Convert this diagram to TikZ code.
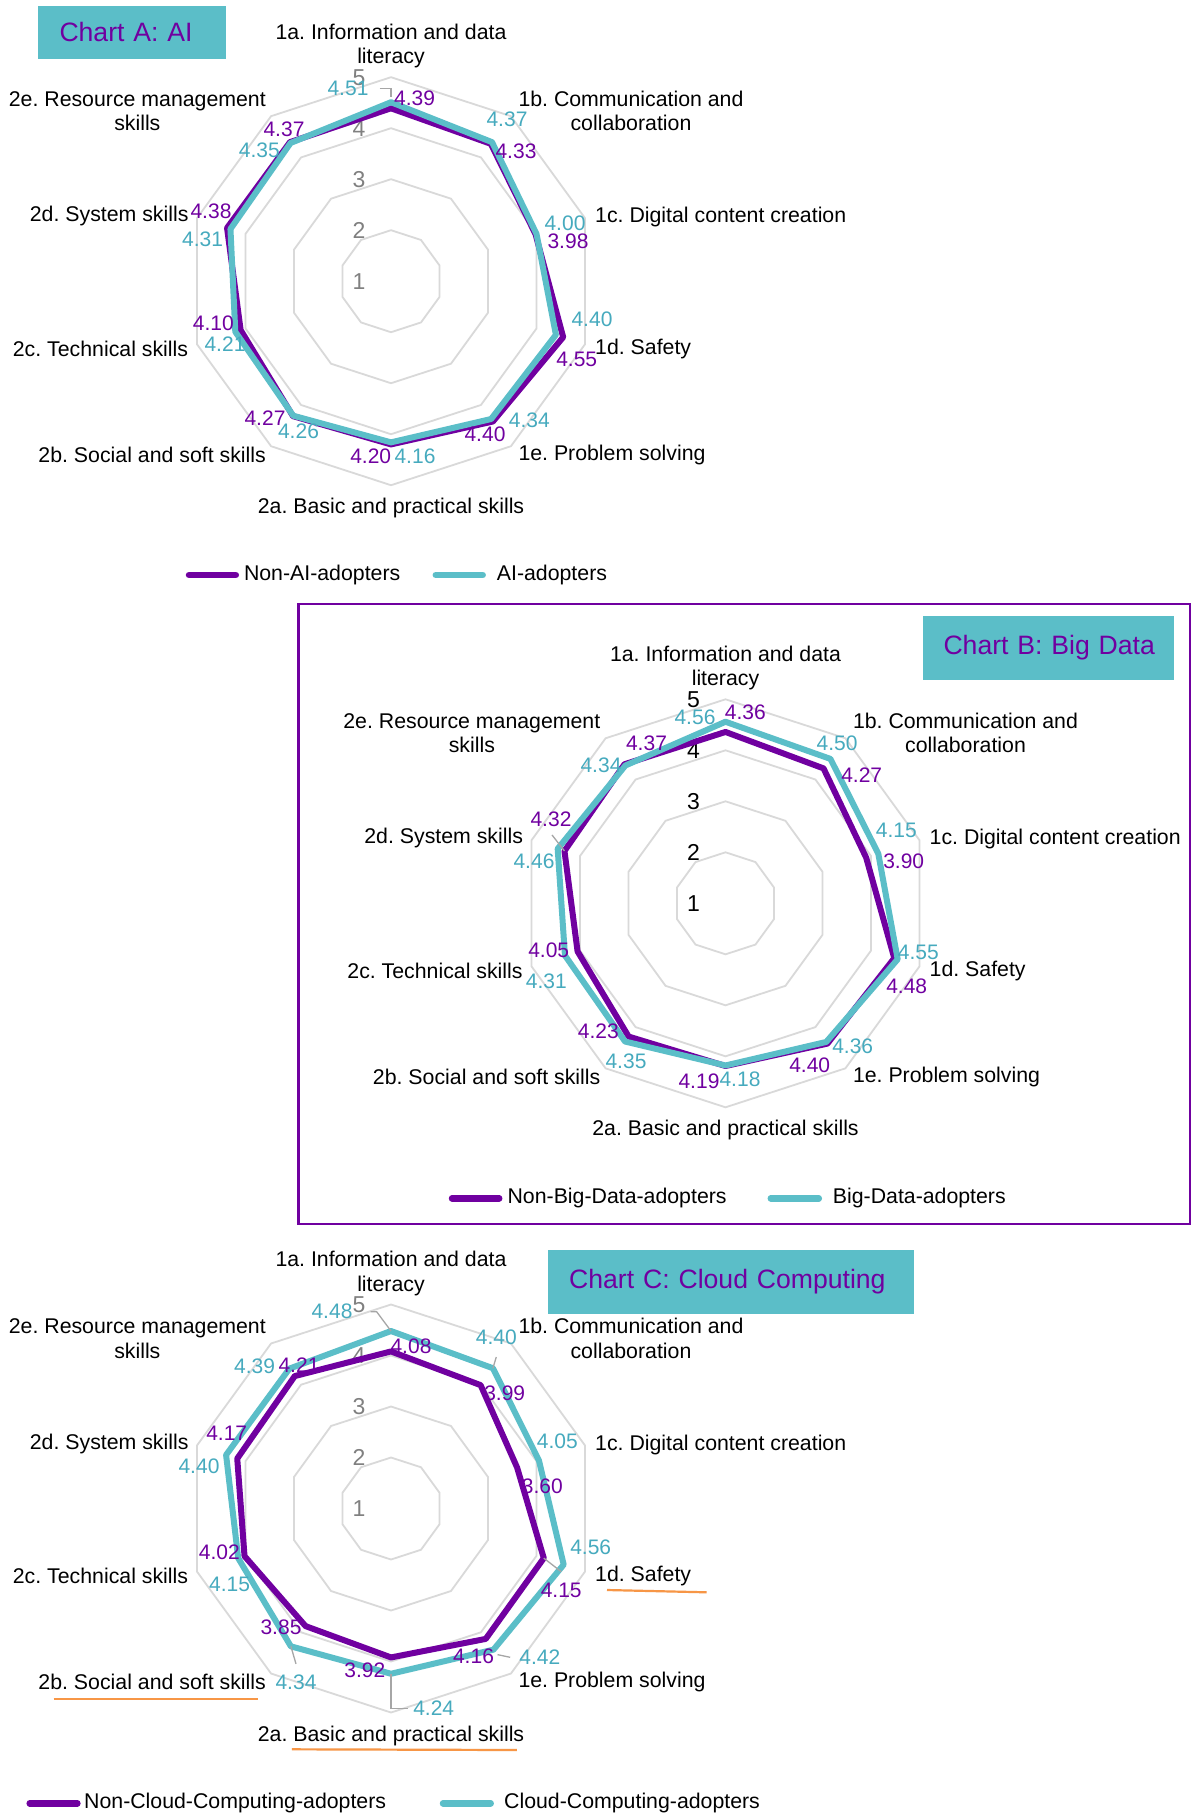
\documentclass[tikz,border=0pt]{standalone}
\usepackage{fontspec}
\setmainfont{Liberation Sans}
\frenchspacing

\definecolor{advio}{RGB}{112,0,160}
\definecolor{adteal}{RGB}{91,190,200}
\definecolor{tealtext}{RGB}{70,170,190}
\definecolor{gridgray}{RGB}{217,217,217}
\definecolor{axgray}{RGB}{128,128,128}
\definecolor{leadgray}{RGB}{166,166,166}
\definecolor{ulorange}{RGB}{247,150,70}

% radius of one scale step (value 1 sits at the centre)
\newcommand{\runit}{51}

% grid rings, scale numbers and category names of one radar chart
\newcommand{\radarframe}[3]{%
  \begin{scope}[shift={#2}]
    \coordinate (#1-c) at (0,0);
    \foreach \lv in {2,...,5}{
      \draw[gridring] (-90:{(\lv-1)*\runit})
        \foreach \k in {1,...,9}{ -- ({-90+36*\k}:{(\lv-1)*\runit}) } -- cycle;
    }
    \foreach \lv in {1,...,5}{
      \node[axlab, text=#3] (#1-ax\lv) at (-32,{-(\lv-1)*\runit}) {\lv};
    }
    \node[catlab] (#1-k0) at (0,-237.4) {1a. Information and data\\literacy};
    \node[catlab, anchor=west] (#1-k1) at (127.3,-172.4) {1b. Communication and\\collaboration};
    \node[catlab, anchor=west] (#1-k2) at (204,-66.2) {1c. Digital content creation};
    \node[catlab, anchor=west] (#1-k3) at (204,65.5) {1d. Safety};
    \node[catlab, anchor=west] (#1-k4) at (127.3,171.5) {1e. Problem solving};
    \node[catlab] (#1-k5) at (0,224.8) {2a. Basic and practical skills};
    \node[catlab, anchor=east] (#1-k6) at (-125,171.5) {2b. Social and soft skills};
    \node[catlab, anchor=east] (#1-k7) at (-202.7,65.5) {2c. Technical skills};
    \node[catlab, anchor=east] (#1-k8) at (-202.3,-67.2) {2d. System skills};
    \node[catlab, anchor=east] (#1-k9) at (-125,-172.2) {2e. Resource management\\skills};
  \end{scope}
}

% one data series: ten named points and the closed line through them
\newcommand{\series}[4]{%
  \begin{scope}[shift={#2}]
    \foreach \val [count=\k from 0] in {#4}{
      \coordinate (#1-\k) at ({-90+36*\k}:{(\val-1)*\runit});
    }
  \end{scope}
  \draw[#3] (#1-0) -- (#1-1) -- (#1-2) -- (#1-3) -- (#1-4) -- (#1-5)
    -- (#1-6) -- (#1-7) -- (#1-8) -- (#1-9) -- cycle;
}

\begin{document}
\begin{tikzpicture}[x=1bp,y=-1bp,
  gridring/.style={draw=gridgray, line width=1.8bp},
  nonline/.style={draw=advio, line width=6bp, line join=round},
  adline/.style={draw=adteal, line width=6bp, line join=round},
  catlab/.style={font=\fontsize{21.3bp}{24.3bp}\selectfont, inner sep=0pt, align=center, text=black, yshift=-2.3bp},
  axlab/.style={font=\fontsize{23bp}{26bp}\selectfont, inner sep=0pt},
  vlabn/.style={font=\fontsize{21bp}{24bp}\selectfont, inner sep=0pt, text=advio},
  vlabt/.style={font=\fontsize{21bp}{24bp}\selectfont, inner sep=0pt, text=tealtext},
  leader/.style={draw=leadgray, line width=1.3bp},
  titlebox/.style={fill=adteal, text=advio, font=\fontsize{26.6bp}{30bp}\selectfont,
    anchor=north west, inner ysep=0pt, inner xsep=21bp, align=left},
  legline/.style={line width=6.5bp, line cap=round},
  legtext/.style={font=\fontsize{21.3bp}{24bp}\selectfont, anchor=west, inner sep=0pt},
  uline/.style={draw=ulorange, line width=2.2bp},
  chartframe/.style={draw=advio, line width=2.5bp}]

\useasboundingbox (0,0) rectangle (1192,1815);
\fill[white] (0,0) rectangle (1192,1815);

% ---------------- Chart A ----------------
\node[titlebox, minimum width=187.5bp, minimum height=52.3bp, text width=145.5bp] (A-title) at (38.3,6) {\mbox{Chart A: AI}};
\radarframe{A}{(391,281.2)}{axgray}
\series{A-n}{(391,281.2)}{nonline}{4.39,4.33,3.98,4.55,4.40,4.20,4.27,4.10,4.38,4.37}
\series{A-a}{(391,281.2)}{adline}{4.51,4.37,4.00,4.40,4.34,4.16,4.26,4.21,4.31,4.35}

\node[vlabn] (A-nl-0) at (414.6,98.3) {4.39};
\node[vlabn] (A-nl-1) at (516,151.7) {4.33};
\node[vlabn] (A-nl-2) at (568,241.7) {3.98};
\node[vlabn] (A-nl-3) at (576.7,359.3) {4.55};
\node[vlabn] (A-nl-4) at (485,434) {4.40};
\node[vlabn] (A-nl-5) at (370.7,456.7) {4.20};
\node[vlabn] (A-nl-6) at (265,418.3) {4.27};
\node[vlabn] (A-nl-7) at (213.4,323.3) {4.10};
\node[vlabn] (A-nl-8) at (211,211.7) {4.38};
\node[vlabn] (A-nl-9) at (284,129.3) {4.37};
\node[vlabt] (A-al-0) at (348,88.3) {4.51};
\node[vlabt] (A-al-1) at (507,119.3) {4.37};
\node[vlabt] (A-al-2) at (565,223.3) {4.00};
\node[vlabt] (A-al-3) at (592,319.3) {4.40};
\node[vlabt] (A-al-4) at (529.3,420.7) {4.34};
\node[vlabt] (A-al-5) at (415,456.7) {4.16};
\node[vlabt] (A-al-6) at (298.5,431) {4.26};
\node[vlabt] (A-al-7) at (225,344.3) {4.21};
\node[vlabt] (A-al-8) at (202.6,239.3) {4.31};
\node[vlabt] (A-al-9) at (259.3,150.7) {4.35};
\draw[leader] ([xshift=11bp]A-al-0.east) -| ([yshift=5bp]A-a-0);

\coordinate (A-lg-n1) at (189,575);
\coordinate (A-lg-n2) at (235.8,575);
\draw[legline, advio] (A-lg-n1) -- (A-lg-n2);
\node[legtext] (A-lg-nt) at (243.8,575) {Non-AI-adopters};
\coordinate (A-lg-a1) at (435.8,575);
\coordinate (A-lg-a2) at (482.7,575);
\draw[legline, adteal] (A-lg-a1) -- (A-lg-a2);
\node[legtext] (A-lg-at) at (496.7,575) {AI-adopters};

% ---------------- Chart B ----------------
\coordinate (B-f1) at (298.5,604);
\coordinate (B-f2) at (1190,1224);
\draw[chartframe] (B-f1) rectangle (B-f2);
\node[titlebox, minimum width=251bp, minimum height=63.3bp, text width=209bp] (B-title) at (922.3,616) {\mbox{Chart B: Big Data}};
\radarframe{B}{(725.5,903.3)}{black}
\series{B-n}{(725.5,903.3)}{nonline}{4.36,4.27,3.90,4.48,4.40,4.19,4.23,4.05,4.32,4.37}
\series{B-a}{(725.5,903.3)}{adline}{4.56,4.50,4.15,4.55,4.36,4.18,4.35,4.31,4.46,4.34}

\node[vlabn] (B-nl-0) at (745.4,712.3) {4.36};
\node[vlabn] (B-nl-1) at (861.7,775) {4.27};
\node[vlabn] (B-nl-2) at (903.7,861.7) {3.90};
\node[vlabn] (B-nl-3) at (906.7,986) {4.48};
\node[vlabn] (B-nl-4) at (809.7,1065) {4.40};
\node[vlabn] (B-nl-5) at (699,1081.7) {4.19};
\node[vlabn] (B-nl-6) at (598.4,1031) {4.23};
\node[vlabn] (B-nl-7) at (548.7,950.7) {4.05};
\node[vlabn] (B-nl-8) at (551,819.3) {4.32};
\node[vlabn] (B-nl-9) at (646.5,743.3) {4.37};
\node[vlabt] (B-al-0) at (695,717.7) {4.56};
\node[vlabt] (B-al-1) at (837,743.3) {4.50};
\node[vlabt] (B-al-2) at (896.3,830.7) {4.15};
\node[vlabt] (B-al-3) at (918.3,952.7) {4.55};
\node[vlabt] (B-al-4) at (852.7,1046.7) {4.36};
\node[vlabt] (B-al-5) at (740,1079.3) {4.18};
\node[vlabt] (B-al-6) at (626,1061.7) {4.35};
\node[vlabt] (B-al-7) at (546.4,981.7) {4.31};
\node[vlabt] (B-al-8) at (534,861.7) {4.46};
\node[vlabt] (B-al-9) at (601,765) {4.34};
\draw[leader] ([xshift=1bp,yshift=-8bp]B-nl-8.south) -- (B-n-8);

\coordinate (B-lg-n1) at (452,1198.3);
\coordinate (B-lg-n2) at (499.2,1198.3);
\draw[legline, advio] (B-lg-n1) -- (B-lg-n2);
\node[legtext] (B-lg-nt) at (507.4,1198.3) {Non-Big-Data-adopters};
\coordinate (B-lg-a1) at (770.8,1198.3);
\coordinate (B-lg-a2) at (818.8,1198.3);
\draw[legline, adteal] (B-lg-a1) -- (B-lg-a2);
\node[legtext] (B-lg-at) at (832.7,1198.3) {Big-Data-adopters};

% ---------------- Chart C ----------------
\node[titlebox, minimum width=366bp, minimum height=64bp, text width=324bp] (C-title) at (548,1249.3) {\mbox{Chart C: Cloud Computing}};
\radarframe{C}{(391,1508.5)}{axgray}
\series{C-n}{(391,1508.5)}{nonline}{4.08,3.99,3.60,4.15,4.16,3.92,3.85,4.02,4.17,4.21}
\series{C-a}{(391,1508.5)}{adline}{4.48,4.40,4.05,4.56,4.42,4.24,4.34,4.15,4.40,4.39}

\node[vlabn] (C-nl-0) at (411,1346.7) {4.08};
\node[vlabn] (C-nl-1) at (504.7,1393.3) {3.99};
\node[vlabn] (C-nl-2) at (542.4,1486.7) {3.60};
\node[vlabn] (C-nl-3) at (561.2,1590.7) {4.15};
\node[vlabn] (C-nl-4) at (473.5,1656) {4.16};
\node[vlabn] (C-nl-5) at (364.8,1670.7) {3.92};
\node[vlabn] (C-nl-6) at (281,1627.3) {3.85};
\node[vlabn] (C-nl-7) at (219.4,1552.7) {4.02};
\node[vlabn] (C-nl-8) at (226.7,1433.3) {4.17};
\node[vlabn] (C-nl-9) at (299,1365) {4.21};
\node[vlabt] (C-al-0) at (332,1311.7) {4.48};
\node[vlabt] (C-al-1) at (496.3,1337.3) {4.40};
\node[vlabt] (C-al-2) at (557.4,1441.7) {4.05};
\node[vlabt] (C-al-3) at (590.7,1547.3) {4.56};
\node[vlabt] (C-al-4) at (539.8,1657.3) {4.42};
\node[vlabt] (C-al-5) at (433.7,1708.3) {4.24};
\node[vlabt] (C-al-6) at (296,1682.3) {4.34};
\node[vlabt] (C-al-7) at (229.6,1584.3) {4.15};
\node[vlabt] (C-al-8) at (199,1466.7) {4.40};
\node[vlabt] (C-al-9) at (254.6,1366.7) {4.39};
\draw[leader] ([xshift=18bp]C-al-0.east) -- ++(6,0) -- (C-a-0);
\draw[leader] ([yshift=-12bp]C-al-1.south) -- (C-a-1);
\draw[leader] (C-n-3) -- ([yshift=11.5bp]C-nl-3.north);
\draw[leader] ([xshift=4bp,yshift=-5bp]C-a-4) -- ([xshift=-9bp]C-al-4.west);
\draw[leader] (C-a-5) |- ([xshift=-5bp]C-al-5.west);
\draw[leader] (C-a-6) -- ([yshift=10.8bp]C-al-6.north);

% highlighted categories
\coordinate (C-u1a) at (607,1590);
\coordinate (C-u1b) at (706.6,1592.3);
\draw[uline] (C-u1a) -- (C-u1b);
\coordinate (C-u2a) at (53.6,1699.3);
\coordinate (C-u2b) at (257.7,1699.3);
\draw[uline] (C-u2a) -- (C-u2b);
\coordinate (C-u3a) at (291.8,1749.3);
\coordinate (C-u3b) at (516.8,1750);
\draw[uline] (C-u3a) -- (C-u3b);

\coordinate (C-lg-n1) at (29.7,1803.3);
\coordinate (C-lg-n2) at (77.4,1803.3);
\draw[legline, advio] (C-lg-n1) -- (C-lg-n2);
\node[legtext] (C-lg-nt) at (84,1803.3) {Non-Cloud-Computing-adopters};
\coordinate (C-lg-a1) at (443,1803.3);
\coordinate (C-lg-a2) at (490.7,1803.3);
\draw[legline, adteal] (C-lg-a1) -- (C-lg-a2);
\node[legtext] (C-lg-at) at (504,1803.3) {Cloud-Computing-adopters};

\end{tikzpicture}
\end{document}
